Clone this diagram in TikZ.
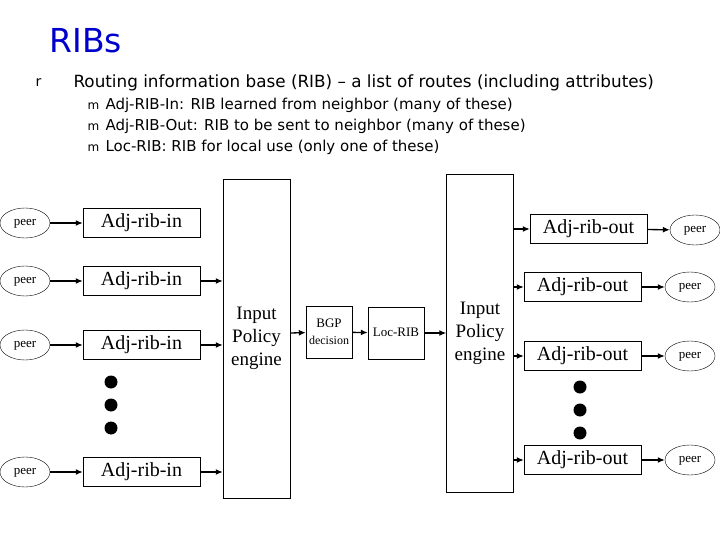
\documentclass[tikz,border=0pt]{standalone}
\usepackage{fontspec}
\usetikzlibrary{shapes.geometric,arrows.meta}
\setmainfont{Liberation Serif}
\newfontfamily\tsans{DejaVu Sans}
\definecolor{titleblue}{RGB}{0,0,204}
\begin{document}
\begin{tikzpicture}[x=1pt,y=-1pt,
  peer/.style={draw,ellipse,minimum width=50pt,minimum height=30pt,inner sep=0pt,text height=7pt,text depth=2pt,font=\fontsize{13}{13}\selectfont},
  rib/.style={draw,minimum width=117pt,minimum height=29pt,inner sep=0pt,text height=13pt,text depth=4pt,font=\fontsize{20}{20}\selectfont},
  eng/.style={draw,minimum width=67pt,inner sep=0pt,align=center,font=\fontsize{19}{23}\selectfont},
  small/.style={draw,inner sep=0pt,align=center,font=\fontsize{13}{17}\selectfont},
  arr/.style={-{Latex[length=7pt,width=6pt]},line width=1.3pt},
  dot/.style={fill,circle,inner sep=0pt,minimum size=13pt}]
\useasboundingbox (0,0) rectangle (720,540);
\node[anchor=west,text=titleblue,font=\tsans\fontsize{33}{33}\selectfont] (title) at (46,41) {RIBs};
\node[anchor=west,font=\tsans\fontsize{14}{14}\selectfont] (b0) at (32,83) {r};
\node[anchor=west,font=\tsans\fontsize{16.8}{17}\selectfont] (t0) at (70,83) {Routing information base (RIB) – a list of routes (including attributes)};
\foreach \y/\t [count=\i] in {105/Adj-RIB-In: RIB learned from neighbor (many of these),126/Adj-RIB-Out: RIB to be sent to neighbor (many of these),147/Loc-RIB: RIB for local use (only one of these)}{
  \node[anchor=west,font=\tsans\fontsize{12}{12}\selectfont] (m\i) at (84,\y+1) {m};
  \node[anchor=west,font=\tsans\fontsize{15}{15}\selectfont] (s\i) at (102,\y) {\t};
}
% left side
\node[eng,minimum height=319pt] (E1) at (256.5,338.5) {Input\\Policy\\engine};
\foreach \y/\n in {223/1,281/2,345/3,472/4}{
  \node[peer] (p\n) at (25,\y) {peer};
  \node[rib] (r\n) at (141.5,\y) {Adj-rib-in};
  \draw[arr] (p\n) -- (r\n);
}
\foreach \n in {2,3,4}{\draw[arr] (r\n.east) -- (r\n.east -| E1.west);}
\foreach \y [count=\i] in {382,405,428}{\node[dot] (dl\i) at (111,\y) {};}
\node[small,minimum width=46pt,minimum height=52pt] (bgp) at (329,332) {BGP\\{\fontsize{12}{12}\selectfont decision}};
\node[small,minimum width=56pt,minimum height=52pt,text height=9pt,text depth=3pt] (loc) at (396,333) {Loc-RIB};
\node[eng,minimum height=318pt] (E2) at (480,333) {Input\\Policy\\engine};
\draw[arr] (E1.east |- 0,333) -- (bgp);
\draw[arr] (bgp) -- (loc);
\draw[arr] (loc) -- (loc -| E2.west);
% right side
\node[rib] (o1) at (588.5,229) {Adj-rib-out};
\node[peer] (q1) at (695,230) {peer};
\draw[arr] (E2.east |- o1) -- (o1);
\draw[arr] (o1) -- (q1);
\foreach \y/\n in {287/2,356/3,460/4}{
  \node[rib] (o\n) at (582.5,\y) {Adj-rib-out};
  \node[peer] (q\n) at (690,\y) {peer};
  \draw[arr] (E2.east |- o\n) -- (o\n);
  \draw[arr] (o\n) -- (q\n);
}
\foreach \y [count=\i] in {387,410,433}{\node[dot] (dr\i) at (580,\y) {};}
\end{tikzpicture}
\end{document}
